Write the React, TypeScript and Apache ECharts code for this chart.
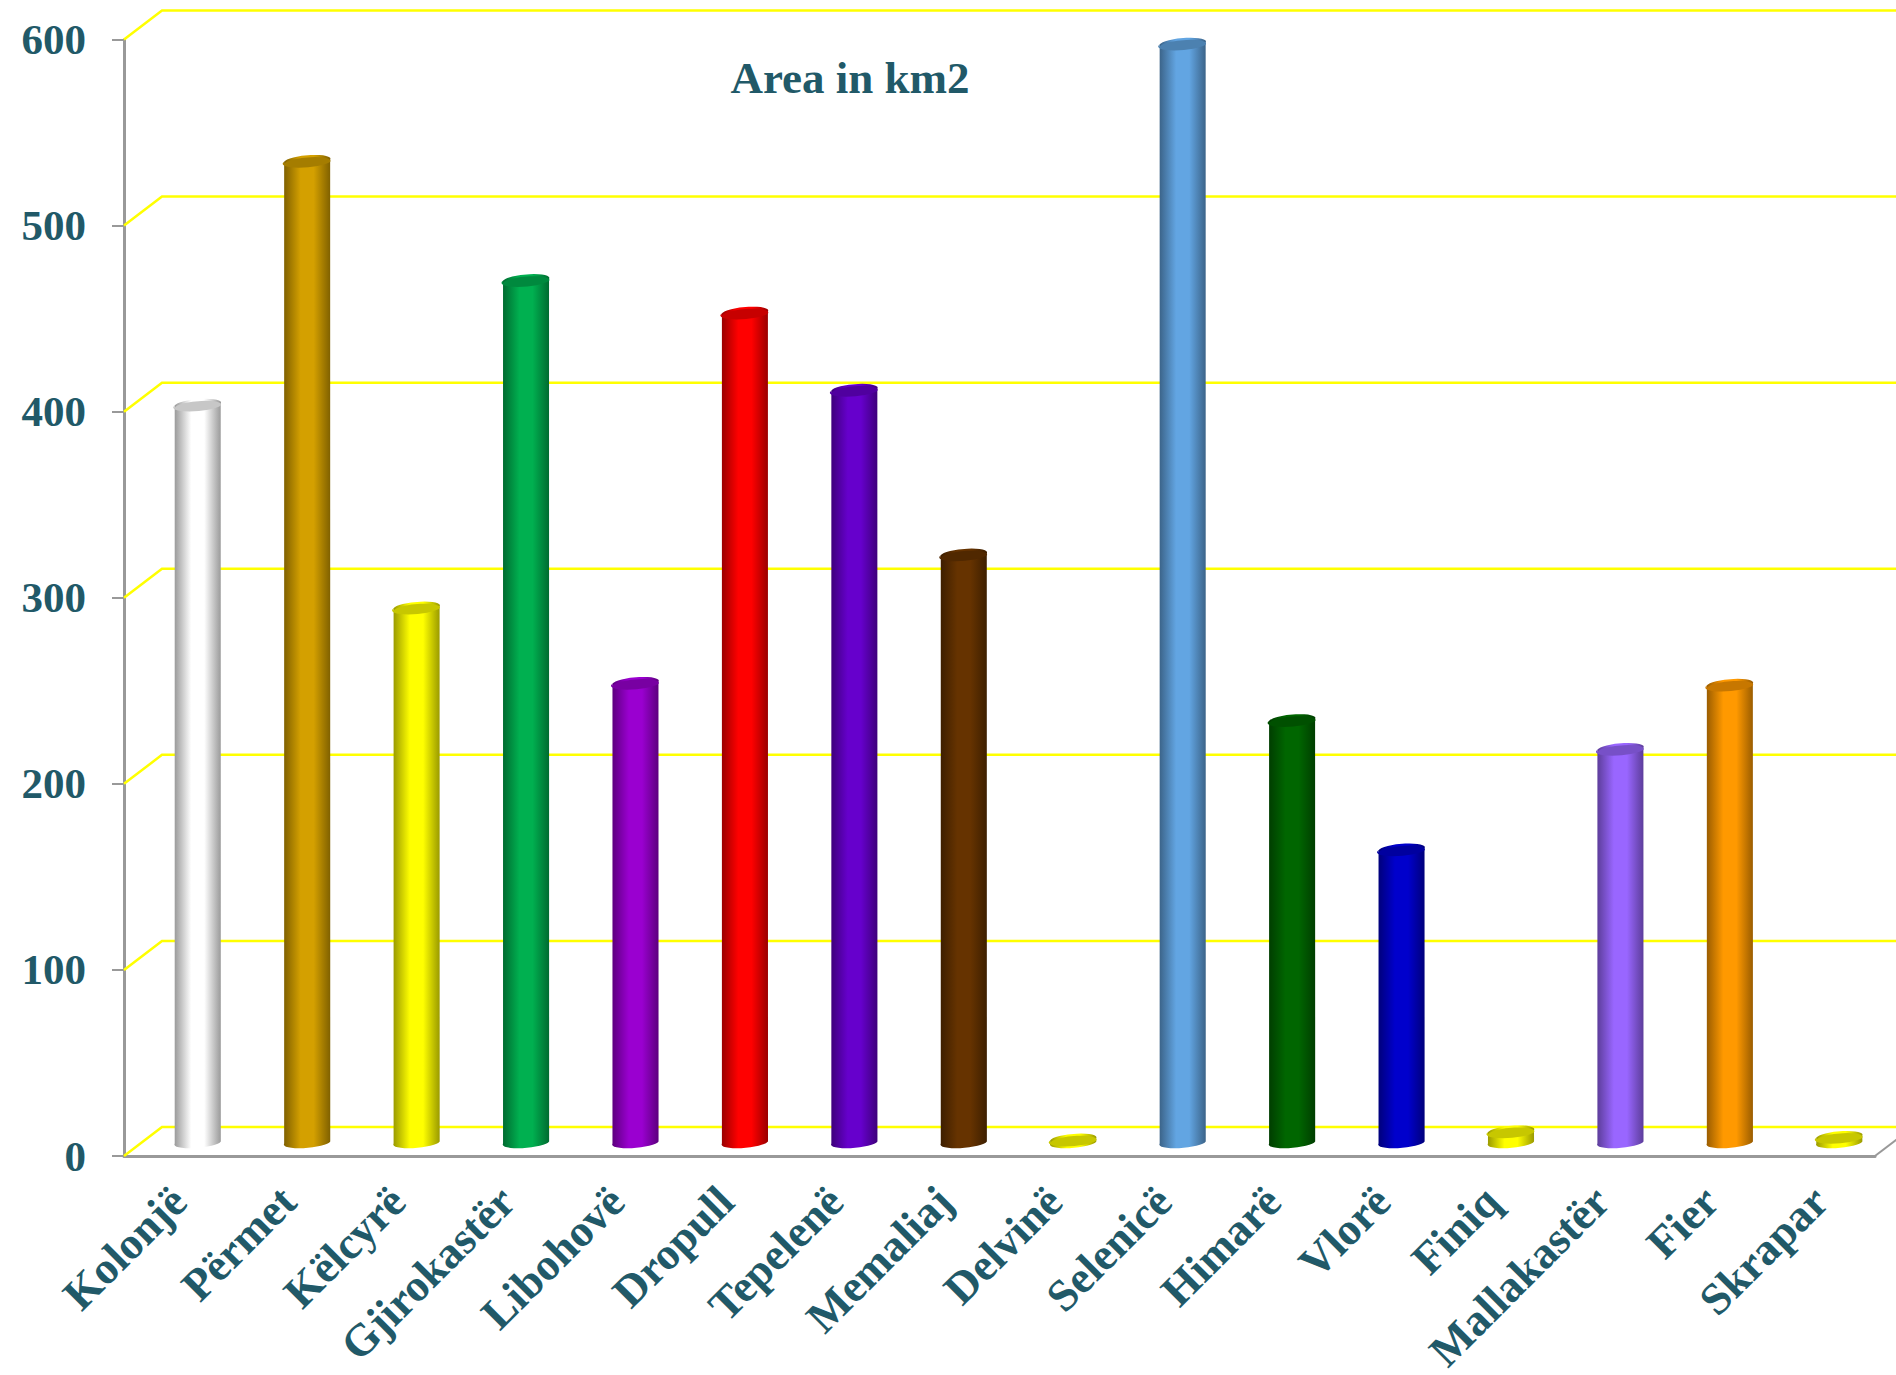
import React, { useEffect, useRef } from "react";
import * as echarts from "echarts";

// Municipal areas in km2, one cylinder per municipality.
const municipalities = [
  "Kolonjë", "Përmet", "Këlcyrë", "Gjirokastër", "Libohovë", "Dropull", "Tepelenë", "Memaliaj",
  "Delvinë", "Selenicë", "Himarë", "Vlorë", "Finiq", "Mallakastër", "Fier", "Skrapar",
];
const areas = [395.5, 526.5, 286.5, 462.5, 246, 445, 403.5, 315, 0.6, 589.5, 226, 156.5, 5, 210.5, 245, 2];
const barColors = [
  "#FFFFFF", "#D4A000", "#FFFF00", "#00B050", "#9A00D0", "#FF0000", "#6600CC", "#663300",
  "#FFFF00", "#62A5E2", "#006600", "#0000CC", "#FFFF00", "#9966FF", "#FF9900", "#FFFF00",
];
const yTicks = [0, 100, 200, 300, 400, 500, 600];

const TEXT_COLOR = "#215968";
const AXIS_COLOR = "#999999";
const FONT = "'Liberation Serif', serif";

// Oblique depth of the pseudo-3D floor and wall.
const DEPTH_X = 38;
const DEPTH_Y = 29;
const BAR_HALF = 23;
const TILT = 2.1;
const RY = 5.3;

function shade(hex: string, f: number) {
  const n = parseInt(hex.slice(1), 16);
  const c = [(n >> 16) & 255, (n >> 8) & 255, n & 255].map((v) => Math.round(v * f));
  return `rgb(${c[0]},${c[1]},${c[2]})`;
}

function renderWall(params: any, api: any) {
  const y = api.coord([0, api.value(1)])[1];
  const cs = params.coordSys;
  const right = cs.x + cs.width;
  const children: any[] = [
    {
      type: "polyline",
      shape: { points: [[cs.x, y], [cs.x + DEPTH_X, y - DEPTH_Y], [right + 40, y - DEPTH_Y]] },
      style: { fill: "none", stroke: "#FFFF00", lineWidth: 2.5 },
    },
  ];
  if (api.value(1) === 0) {
    children.push({
      type: "line",
      shape: { x1: right, y1: y, x2: right + DEPTH_X, y2: y - DEPTH_Y },
      style: { stroke: AXIS_COLOR, lineWidth: 2 },
    });
  }
  return { type: "group", children };
}

function renderCylinder(params: any, api: any) {
  const i = api.value(0);
  const base = api.coord([i, 0]);
  const top = api.coord([i, api.value(1)]);
  const cx = base[0] + DEPTH_X / 2;
  const yBottom = base[1] - DEPTH_Y / 2;
  const yTop = top[1] - DEPTH_Y / 2;
  const color = barColors[params.dataIndex];
  const rx = Math.hypot(BAR_HALF, TILT);
  const rot = (Math.atan2(-TILT, BAR_HALF) * 180) / Math.PI;
  const arc = `A${rx} ${RY} ${rot}`;
  const lx = cx - BAR_HALF;
  const rxp = cx + BAR_HALF;
  const body =
    `M${lx} ${yTop + TILT}L${lx} ${yBottom + TILT}${arc} 0 0 ${rxp} ${yBottom - TILT}` +
    `L${rxp} ${yTop - TILT}${arc} 0 0 ${lx} ${yTop + TILT}Z`;
  const cap =
    `M${lx} ${yTop + TILT}${arc} 1 1 ${rxp} ${yTop - TILT}${arc} 1 1 ${lx} ${yTop + TILT}Z`;
  return {
    type: "group",
    children: [
      {
        type: "path",
        shape: { pathData: body },
        style: {
          fill: new echarts.graphic.LinearGradient(0, 0, 1, 0, [
            { offset: 0, color: shade(color, 0.6) },
            { offset: 0.36, color },
            { offset: 0.64, color },
            { offset: 1, color: shade(color, 0.6) },
          ]),
        },
      },
      {
        type: "path",
        shape: { pathData: cap },
        style: { fill: shade(color, 0.78) },
      },
    ],
  };
}

export default function App() {
  const ref = useRef<HTMLDivElement>(null);

  useEffect(() => {
    document.body.style.margin = "0";
    const chart = echarts.init(ref.current!, null, { renderer: "svg" });
    chart.setOption({
      animation: false,
      backgroundColor: "#FFFFFF",
      title: {
        text: "Area in km2",
        left: 845,
        top: 50,
        textAlign: "center",
        textStyle: { color: TEXT_COLOR, fontFamily: FONT, fontWeight: "bold", fontSize: 45 },
      },
      grid: { left: 124, right: 21, top: 39.5, bottom: 219, outerBoundsMode: "none" },
      xAxis: {
        type: "category",
        data: municipalities,
        axisLine: { lineStyle: { color: AXIS_COLOR, width: 3 } },
        axisTick: { length: 11, lineStyle: { color: AXIS_COLOR, width: 2 } },
        axisLabel: {
          rotate: 45,
          interval: 0,
          margin: 38,
          color: TEXT_COLOR,
          fontFamily: FONT,
          fontWeight: "bold",
          fontSize: 45,
        },
      },
      yAxis: {
        type: "value",
        min: 0,
        max: 600,
        interval: 100,
        splitLine: { show: false },
        axisLine: { show: true, lineStyle: { color: AXIS_COLOR, width: 3 } },
        axisTick: { show: true, length: 12, lineStyle: { color: AXIS_COLOR, width: 2 } },
        axisLabel: {
          margin: 38,
          color: TEXT_COLOR,
          fontFamily: FONT,
          fontWeight: "bold",
          fontSize: 43,
        },
      },
      series: [
        {
          type: "custom",
          z: 1,
          clip: false,
          silent: true,
          encode: { x: 0, y: 1 },
          data: yTicks.map((v) => [0, v]),
          renderItem: renderWall,
        },
        {
          type: "custom",
          z: 3,
          clip: false,
          silent: true,
          encode: { x: 0, y: 1 },
          data: areas.map((v, i) => [i, v]),
          renderItem: renderCylinder,
        },
      ],
    });
    return () => chart.dispose();
  }, []);

  return <div ref={ref} style={{ width: 1896, height: 1375, overflow: "hidden" }} />;
}
